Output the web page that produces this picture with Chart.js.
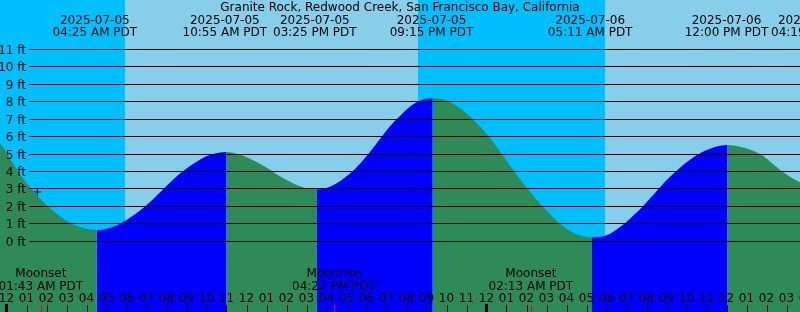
<!DOCTYPE html>
<html>
<head>
<meta charset="utf-8">
<title>Granite Rock, Redwood Creek tides</title>
<script src="https://cdn.jsdelivr.net/npm/chart.js@4.4.0/dist/chart.umd.min.js"></script>
<style>
  html, body { margin: 0; padding: 0; background: #87ceeb; }
  canvas { display: block; }
</style>
</head>
<body>
<canvas id="tide-chart" width="800" height="312"></canvas>
<script>
// all times are hours counted from 2025-07-05 00:00 PDT
const tideHours = [
  -0.33, 0.04, 0.575, 1.26, 2.075, 3.275, 3.875, 4.51,
  5.175, 5.675, 6.925, 7.825, 8.675, 9.675, 10.325, 11.01,
  12.01, 13.01, 13.675, 14.34, 15.01, 15.525,
  16.175, 16.675, 17.175, 17.675, 18.175, 18.675, 19.175, 19.675, 20.175, 20.675, 21.31,
  22.175, 23.175, 23.675, 24.175, 24.675, 25.175, 25.675, 26.175, 26.675, 27.175, 27.675, 28.175, 28.675, 29.275,
  30.01, 30.675, 31.175, 31.675, 32.175, 32.675, 33.175, 33.675, 34.175, 34.675, 35.175, 35.675, 36.06,
  36.675, 37.175, 37.675, 38.175, 38.675, 39.175, 39.675
];
const tideFeet = [
  5.65, 5.0, 4.0, 3.0, 2.0, 1.0, 0.75, 0.65,
  0.77, 1.0, 2.0, 2.97, 3.88, 4.68, 5.0, 5.12,
  4.82, 4.22, 3.73, 3.32, 3.04, 2.98,
  3.13, 3.44, 3.88, 4.45, 5.12, 5.86, 6.6, 7.18, 7.71, 8.05, 8.19,
  7.98, 7.15, 6.58, 5.92, 5.15, 4.34, 3.56, 2.84, 2.16, 1.56, 1.01, 0.6, 0.33, 0.23,
  0.35, 0.82, 1.3, 1.84, 2.45, 3.1, 3.7, 4.22, 4.68, 5.04, 5.3, 5.47, 5.52,
  5.42, 5.26, 5.0, 4.58, 4.1, 3.7, 3.38
];
const depthTicks = [0, 1, 2, 3, 4, 5, 6, 7, 8, 9, 10, 11];

// night spans (sunset -> sunrise)
const nightStart = [-0.33, 20.56];
const nightEnd = [5.91, 29.91];

const tideEventHours = [4.417, 10.917, 15.417, 21.25, 29.183, 36.0, 40.317];
const tideEventDates = ['2025-07-05', '2025-07-05', '2025-07-05', '2025-07-05', '2025-07-06', '2025-07-06', '2025-07-06'];
const tideEventTimes = ['04:25 AM PDT', '10:55 AM PDT', '03:25 PM PDT', '09:15 PM PDT', '05:11 AM PDT', '12:00 PM PDT', '04:19 PM PDT'];

const moonEventHours = [1.717, 16.367, 26.217];
const moonEventNames = ['Moonset', 'Moonrise', 'Moonset'];
const moonEventTimes = ['01:43 AM PDT', '04:22 PM PDT', '02:13 AM PDT'];

const hourTickLabels = ['12', '01', '02', '03', '04', '05', '06', '07', '08', '09', '10', '11'];

const markHour = 1.54;
const markFeet = 2.83;

const SKY_DAY = '#87ceeb';
const SKY_NIGHT = '#00bfff';
const RISING = '#0000ff';
const FALLING = '#2e8b57';
const FONT = '12px "DejaVu Sans"';

const tideDecor = {
    id: 'tideDecor',
    beforeDatasetsDraw(chart) {
        const { ctx, chartArea: a, scales: { x } } = chart;
        ctx.save();
        ctx.fillStyle = SKY_DAY;
        ctx.fillRect(a.left, a.top, a.width, a.height);
        ctx.fillStyle = SKY_NIGHT;
        nightStart.forEach((s, i) => {
            const x0 = Math.round(x.getPixelForValue(s));
            const x1 = Math.round(x.getPixelForValue(nightEnd[i]));
            ctx.fillRect(x0, a.top, x1 - x0, a.height);
        });
        ctx.restore();
    },
    afterDatasetsDraw(chart) {
        const { ctx, chartArea: a, scales: { x, y } } = chart;
        ctx.save();
        ctx.font = FONT;
        ctx.fillStyle = '#000';
        ctx.strokeStyle = '#000';
        ctx.lineWidth = 1;

        // depth lines + labels
        ctx.textAlign = 'right';
        ctx.textBaseline = 'alphabetic';
        depthTicks.forEach(ft => {
            const py = Math.floor(y.getPixelForValue(ft)) + 0.5;
            ctx.beginPath();
            ctx.moveTo(29, py);
            ctx.lineTo(a.right, py);
            ctx.stroke();
            ctx.fillText(ft + ' ft', 26, py + 4);
        });

        // title and high/low labels
        ctx.textAlign = 'center';
        ctx.fillText('Granite Rock, Redwood Creek, San Francisco Bay, California', 400, 11);
        tideEventHours.forEach((h, i) => {
            const px = x.getPixelForValue(h);
            ctx.fillText(tideEventDates[i], px, 24);
            ctx.fillText(tideEventTimes[i], px, 36);
        });

        // moon events
        moonEventHours.forEach((h, i) => {
            const px = x.getPixelForValue(h);
            ctx.fillText(moonEventNames[i], px, 277);
            ctx.fillText(moonEventTimes[i], px, 290);
        });

        // hour labels and ticks
        for (let h = 0; h <= 40; h++) {
            const px = x.getPixelForValue(h);
            ctx.fillText(hourTickLabels[h % 12], px, 302);
            if (h % 24 === 0) {
                ctx.fillRect(Math.round(px) - 2, a.bottom - 8, 3, 8);
            } else {
                ctx.beginPath();
                ctx.moveTo(Math.round(px) + 0.5, a.bottom - 7);
                ctx.lineTo(Math.round(px) + 0.5, a.bottom);
                ctx.stroke();
            }
        }
        ctx.strokeStyle = '#ff0000';
        moonEventHours.forEach(h => {
            const px = Math.round(x.getPixelForValue(h)) + 0.5;
            ctx.beginPath();
            ctx.moveTo(px, a.bottom - 7);
            ctx.lineTo(px, a.bottom);
            ctx.stroke();
        });
        ctx.restore();
    }
};

new Chart(document.getElementById('tide-chart'), {
    type: 'line',
    data: {
        datasets: [
            {
                data: tideHours.map((h, i) => ({ x: h, y: tideFeet[i] })),
                fill: 'start',
                borderWidth: 0,
                borderColor: 'rgba(0,0,0,0)',
                backgroundColor: FALLING,
                pointRadius: 0,
                cubicInterpolationMode: 'monotone',
                segment: {
                    backgroundColor: c => c.p1.parsed.y >= c.p0.parsed.y ? RISING : FALLING
                }
            },
            {
                data: [{ x: markHour, y: markFeet }],
                showLine: false,
                pointStyle: 'cross',
                pointRadius: 4,
                pointBorderColor: '#000',
                pointBackgroundColor: '#000',
                pointBorderWidth: 1
            }
        ]
    },
    options: {
        responsive: false,
        animation: false,
        layout: { padding: 0, autoPadding: false },
        plugins: { legend: { display: false }, tooltip: { enabled: false } },
        scales: {
            x: { type: 'linear', display: false, min: -0.325, max: 39.675 },
            y: { type: 'linear', display: false, min: -4.049, max: 13.826 }
        }
    },
    plugins: [tideDecor]
});
</script>
</body>
</html>
